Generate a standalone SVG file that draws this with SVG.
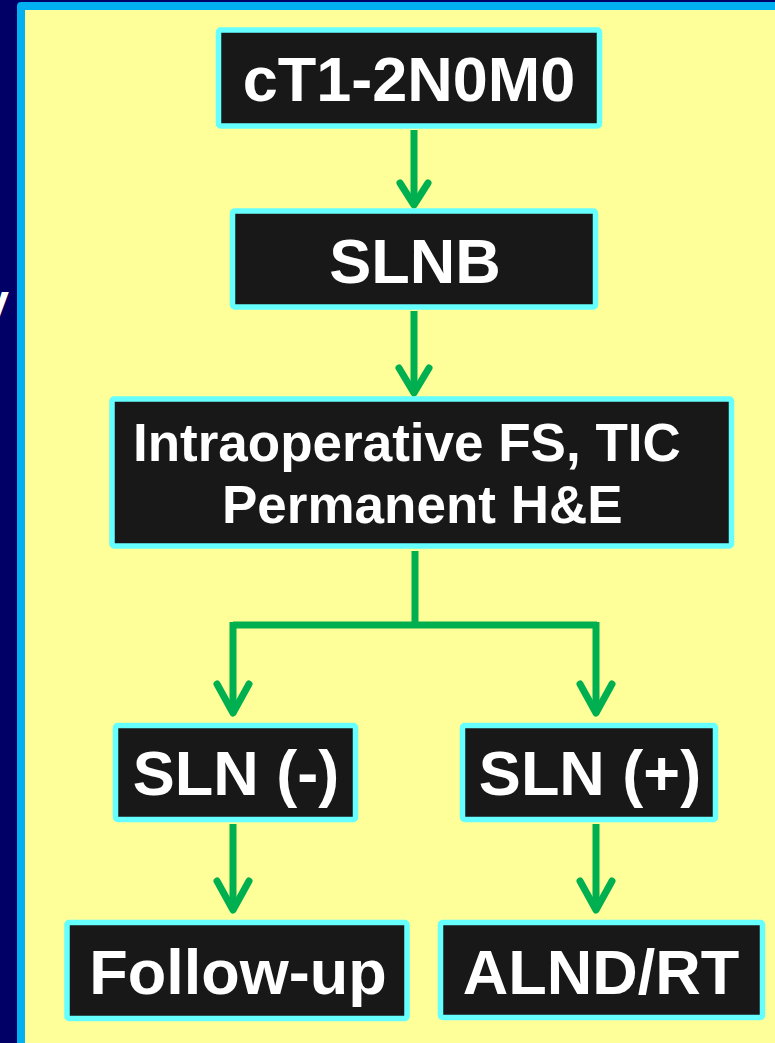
<svg xmlns="http://www.w3.org/2000/svg" width="775" height="1043" viewBox="0 0 775 1043">
<style>
.box{fill:#181818;stroke:#66FFFF;stroke-width:5.5}
.t{font-family:"Liberation Sans",Arial,sans-serif;font-weight:bold;fill:#FFFFFF;font-size:63px;text-anchor:middle}
.t2{font-family:"Liberation Sans",Arial,sans-serif;font-weight:bold;fill:#FFFFFF;font-size:53px}
.ln{fill:none;stroke:#00B050;stroke-width:7;stroke-linecap:round;stroke-linejoin:round}
.ln2{fill:none;stroke:#00B050;stroke-width:7;stroke-linecap:butt}
</style>
<rect x="0" y="0" width="775" height="1043" fill="#000066"/>
<text x="9" y="318" font-family="Liberation Sans,Arial,sans-serif" font-weight="bold" font-size="48" fill="#FFFFFF" text-anchor="end">y</text>
<rect x="17" y="2" width="770" height="1050" rx="4" fill="#00B0F0"/>
<rect x="25" y="10" width="760" height="1040" fill="#FFFF99"/>
<g id="connectors">
<path class="ln2" d="M414 130V205"/>
<path class="ln" d="M400 183L414 205L428 183"/>
<path class="ln2" d="M414 311V393"/>
<path class="ln" d="M399 368L414 393L429 368"/>
<path class="ln2" d="M415 551V625M233 625H597M233 622V712M596 622V712"/>
<path class="ln" d="M217 684L233 713L249 684M580 684L596 713L612 684"/>
<path class="ln2" d="M233 824V908M596 824V908"/>
<path class="ln" d="M217 881L233 910L249 881M580 881L596 910L612 881"/>
</g>
<g id="n1"><rect class="box" x="218.5" y="30" width="381" height="96" rx="2"/><text class="t" x="409" y="101" font-size="64">cT1-2N0M0</text></g>
<g id="n2"><rect class="box" x="232.5" y="211" width="363" height="96" rx="2"/><text class="t" x="415" y="283">SLNB</text></g>
<g id="n3"><rect class="box" x="112" y="399" width="619.5" height="147" rx="2"/><text class="t2" x="133" y="461">Intraoperative FS, TIC</text><text class="t2" x="222" y="523">Permanent H&amp;E</text></g>
<g id="n4"><rect class="box" x="115.5" y="725.5" width="240" height="94" rx="2"/><text class="t" x="236" y="795">SLN (-)</text></g>
<g id="n5"><rect class="box" x="462.5" y="725.5" width="253" height="94" rx="2"/><text class="t" x="590" y="795">SLN (+)</text></g>
<g id="n6"><rect class="box" x="67" y="922.5" width="340" height="96" rx="2"/><text class="t" x="238" y="994">Follow-up</text></g>
<g id="n7"><rect class="box" x="440.5" y="922.5" width="322" height="95" rx="2"/><text class="t" x="601" y="994" font-size="64">ALND/RT</text></g>
</svg>
